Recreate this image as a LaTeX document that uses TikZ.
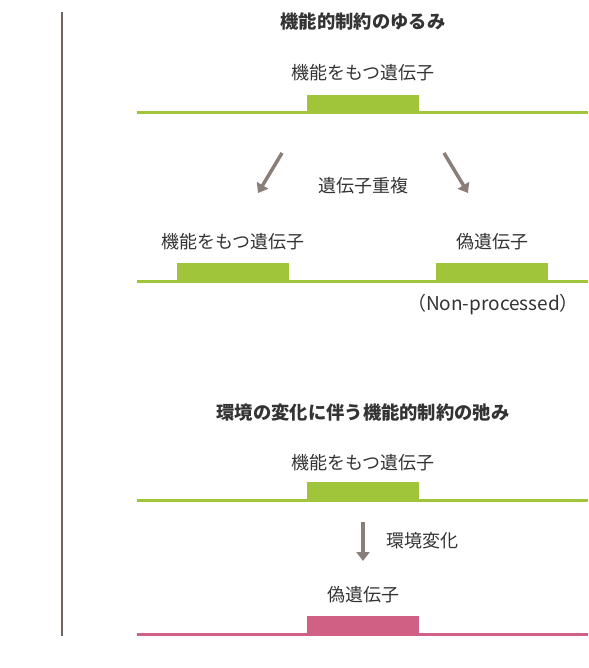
\documentclass[tikz,border=0pt]{standalone}
\usepackage{fontspec}
\setmainfont{Noto Sans CJK JP}
\newfontfamily\cjk{Noto Sans CJK JP}
\usetikzlibrary{arrows.meta}
\definecolor{gr}{HTML}{A0C43A}
\definecolor{pk}{HTML}{D06084}
\definecolor{ar}{HTML}{8A7F78}
\definecolor{tx}{HTML}{333333}
\tikzset{
  lbl/.style={font=\fontsize{18}{20}\selectfont, text=tx, inner sep=0pt},
  ttl/.style={font=\fontsize{18.3}{20}\selectfont\bfseries, text=tx, inner sep=0pt},
  base/.style={line width=3pt},
  gene/.style={inner sep=0pt, minimum width=112pt, minimum height=18pt},
  arr/.style={draw=ar, line width=3.5pt, -{Triangle[length=9pt,width=13pt]}}
}
\begin{document}
\begin{tikzpicture}[x=1pt,y=-1pt]
\useasboundingbox (0,0) rectangle (588,668);
% left rule
\draw[ar!80!black, line width=1.3pt] (62,12) coordinate (l1) -- (62,636) coordinate (l2);
% section 1
\node[ttl] (t1) at (363,21) {機能的制約のゆるみ};
\node[lbl] (a1) at (363,73) {機能をもつ遺伝子};
\draw[gr, base] (137,113) coordinate (s1) -- (588,113) coordinate (e1);
\node[gene, fill=gr, anchor=south west] (g1) at (307,113) {};
\node[lbl] (dup) at (363,186) {遺伝子重複};
\coordinate (la1) at (282,153); \coordinate (la2) at (258,193);
\coordinate (ra1) at (444,153); \coordinate (ra2) at (468,193);
\draw[arr] (la1) -- (la2);
\draw[arr] (ra1) -- (ra2);
\node[lbl] (a2) at (233,242) {機能をもつ遺伝子};
\node[lbl] (p2) at (492,242) {偽遺伝子};
\draw[gr, base] (137,281) coordinate (s2) -- (588,281) coordinate (e2);
\node[gene, fill=gr, anchor=south west] (g2) at (177,281) {};
\node[gene, fill=gr, anchor=south west] (g3) at (436,281) {};
\node[lbl, font=\fontsize{19}{21}\selectfont] (np) at (493,305) {（Non-processed）};
% section 2
\node[ttl] (t2) at (363,413) {環境の変化に伴う機能的制約の弛み};
\node[lbl] (a3) at (363,463) {機能をもつ遺伝子};
\draw[gr, base] (137,500) coordinate (s3) -- (588,500) coordinate (e3);
\node[gene, fill=gr, anchor=south west] (g4) at (307,500) {};
\coordinate (da1) at (363,522); \coordinate (da2) at (363,561);
\draw[arr] (da1) -- (da2);
\node[lbl, anchor=west] (env) at (386,541) {環境変化};
\node[lbl] (p3) at (363,595) {偽遺伝子};
\draw[pk, base] (137,634) coordinate (s4) -- (588,634) coordinate (e4);
\node[gene, fill=pk, anchor=south west] (g5) at (307,634) {};
\end{tikzpicture}
\end{document}
